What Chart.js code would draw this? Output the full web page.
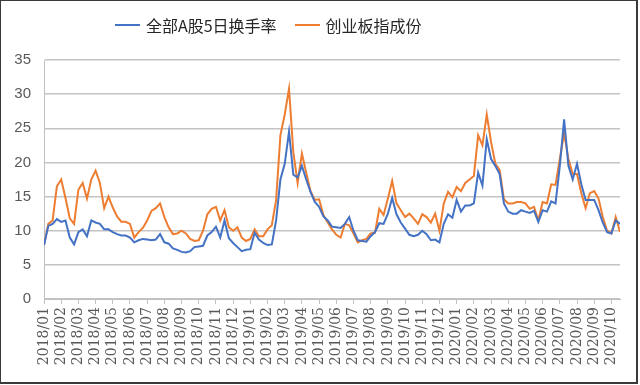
<!DOCTYPE html>
<html>
<head>
<meta charset="utf-8">
<script src="https://cdn.jsdelivr.net/npm/chart.js@4/dist/chart.umd.min.js"></script>
<style>
    body { margin: 0; background: #fff; }
    .wrap { position: relative; width: 640px; height: 385px; }
    .frame {
        position: absolute; left: 0; top: 0; width: 638px; height: 384px;
        box-sizing: border-box; border: 1px solid #3a3a3a;
        border-right-width: 2px; border-bottom-width: 2px; pointer-events: none;
    }
    .legend {
        position: absolute; top: 13px; left: 115px; display: flex; align-items: center;
        font-family: "Noto Sans CJK SC", sans-serif; font-size: 16px; color: #262626;
    }
    .legend .key { display: inline-block; width: 25px; height: 2px; margin-right: 6px; }
    .legend .item { display: flex; align-items: center; margin-right: 18px; }
</style>
</head>
<body>
<div class="wrap">
    <canvas id="chart" width="640" height="385"></canvas>
    <div class="legend" id="legend"></div>
    <div class="frame"></div>
</div>
<script>
// month tick labels
const months = [
    '2018/01', '2018/02', '2018/03', '2018/04', '2018/05', '2018/06', '2018/07', '2018/08', '2018/09', '2018/10', '2018/11', '2018/12',
    '2019/01', '2019/02', '2019/03', '2019/04', '2019/05', '2019/06', '2019/07', '2019/08', '2019/09', '2019/10', '2019/11', '2019/12',
    '2020/01', '2020/02', '2020/03', '2020/04', '2020/05', '2020/06', '2020/07', '2020/08', '2020/09', '2020/10'
];

// roughly weekly readings, 4 per month
const samplesPerMonth = 4;

// 全部A股5日换手率
const allShares = [
    7.9, 10.7, 11.0, 11.7, 11.3, 11.5, 9.0, 8.0, 9.8, 10.2, 9.2, 11.5, 11.2, 11.0, 10.2, 10.2,
    9.8, 9.5, 9.3, 9.3, 9.0, 8.3, 8.6, 8.8, 8.7, 8.6, 8.7, 9.5, 8.3, 8.1, 7.4, 7.2,
    6.9, 6.8, 7.0, 7.6, 7.7, 7.8, 9.3, 9.8, 10.6, 9.0, 11.5, 8.9, 8.2, 7.6, 7.0, 7.2,
    7.3, 9.7, 8.7, 8.2, 7.9, 8.0, 11.5, 17.5, 19.8, 24.5, 18.2, 17.8, 19.5, 17.5, 15.7, 14.2,
    13.5, 12.1, 11.5, 10.6, 10.5, 10.4, 11.0, 12.0, 10.0, 8.6, 8.5, 8.4, 9.2, 9.8, 11.1, 11.0,
    12.5, 14.8, 12.4, 11.2, 10.3, 9.4, 9.2, 9.4, 10.0, 9.5, 8.6, 8.7, 8.3, 11.0, 12.4, 11.9,
    14.5, 12.8, 13.7, 13.7, 14.0, 18.5, 16.6, 23.4, 20.5, 19.5, 18.3, 14.0, 12.8, 12.5, 12.5, 13.0,
    12.8, 12.6, 12.9, 11.3, 13.0, 12.8, 14.3, 14.0, 19.5, 26.3, 19.5, 17.5, 19.8, 16.8, 14.5, 14.5,
    14.5, 13.0, 11.2, 9.8, 9.6, 11.5, 11.0
];

// 创业板指成份
const chinext = [
    7.9, 11.0, 11.5, 16.5, 17.5, 14.8, 11.8, 11.0, 16.0, 17.0, 14.7, 17.5, 18.8, 17.0, 13.3, 15.0,
    13.4, 12.1, 11.3, 11.3, 11.0, 9.0, 9.8, 10.4, 11.5, 12.9, 13.3, 14.0, 12.0, 10.5, 9.5, 9.6,
    10.0, 9.6, 8.8, 8.5, 8.6, 10.0, 12.4, 13.2, 13.5, 11.5, 13.0, 10.5, 10.0, 10.5, 9.0, 8.5,
    8.8, 10.2, 9.2, 9.2, 10.2, 10.8, 14.5, 24.0, 27.0, 30.8, 21.5, 17.0, 21.3, 18.5, 15.8, 14.5,
    14.6, 12.3, 11.2, 10.2, 9.4, 9.0, 11.0, 10.8, 9.6, 8.3, 8.6, 8.8, 9.6, 9.7, 13.2, 12.3,
    14.7, 17.3, 14.0, 13.0, 12.0, 12.5, 11.8, 11.0, 12.4, 12.0, 11.2, 12.5, 10.0, 14.0, 15.7, 14.9,
    16.4, 15.8, 17.0, 17.5, 18.0, 24.0, 22.5, 27.0, 23.0, 19.8, 18.9, 14.6, 14.0, 14.0, 14.2, 14.2,
    14.0, 13.2, 13.5, 11.5, 14.2, 14.0, 16.8, 16.7, 20.5, 24.3, 20.5, 18.3, 18.3, 15.5, 13.3, 15.5,
    15.8, 14.7, 12.0, 10.0, 9.6, 12.0, 9.8
];

const seriesNames = ['全部A股5日换手率', '创业板指成份'];
const seriesColors = ['#4472C4', '#ED7D31'];

const yTicks = [0, 5, 10, 15, 20, 25, 30, 35];

document.addEventListener('DOMContentLoaded', () => {
    renderLegend();
    renderChart();
});

function toPoints(values) {
    return values.map((v, i) => ({ x: i / samplesPerMonth, y: v }));
}

function renderLegend() {
    const legend = document.getElementById('legend');
    legend.innerHTML = seriesNames.map((name, i) => `
        <span class="item"><span class="key" style="background:${seriesColors[i]}"></span>${name}</span>
    `).join('');
}

function renderChart() {
    const ctx = document.getElementById('chart').getContext('2d');
    const lastX = (allShares.length - 1) / samplesPerMonth;
    const tickFont = { family: 'DejaVu Serif', size: 14 };

    new Chart(ctx, {
        type: 'line',
        data: {
            datasets: [allShares, chinext].map((values, i) => ({
                label: seriesNames[i],
                data: toPoints(values),
                borderColor: seriesColors[i],
                backgroundColor: seriesColors[i],
                borderWidth: 2,
                pointRadius: 0,
                tension: 0,
                fill: false
            }))
        },
        options: {
            responsive: false,
            animation: false,
            devicePixelRatio: 1,
            layout: { padding: { top: 60, right: 20, left: 0, bottom: 0 } },
            plugins: {
                legend: { display: false },
                tooltip: { enabled: false }
            },
            scales: {
                x: {
                    type: 'linear',
                    min: 0,
                    max: lastX,
                    afterBuildTicks: (scale) => {
                        scale.ticks = months.map((m, i) => ({ value: i }));
                    },
                    afterFit: (scale) => { scale.height = 86; },
                    ticks: {
                        autoSkip: false,
                        maxRotation: 90,
                        minRotation: 90,
                        padding: 3,
                        color: '#595959',
                        font: tickFont,
                        callback: (value) => months[value]
                    },
                    grid: {
                        drawOnChartArea: false,
                        drawTicks: true,
                        tickLength: 5,
                        color: '#bfbfbf'
                    },
                    border: { color: '#bfbfbf', width: 1 }
                },
                y: {
                    min: yTicks[0],
                    max: yTicks[yTicks.length - 1],
                    afterBuildTicks: (scale) => {
                        scale.ticks = yTicks.map(v => ({ value: v }));
                    },
                    afterFit: (scale) => { scale.width = 44; },
                    ticks: {
                        padding: 13,
                        color: '#595959',
                        font: { family: 'Liberation Sans', size: 15 }
                    },
                    grid: {
                        color: '#c4c4c4',
                        lineWidth: 1.5,
                        drawTicks: false
                    },
                    border: { color: '#bfbfbf', width: 1 }
                }
            }
        }
    });
}
</script>
</body>
</html>
